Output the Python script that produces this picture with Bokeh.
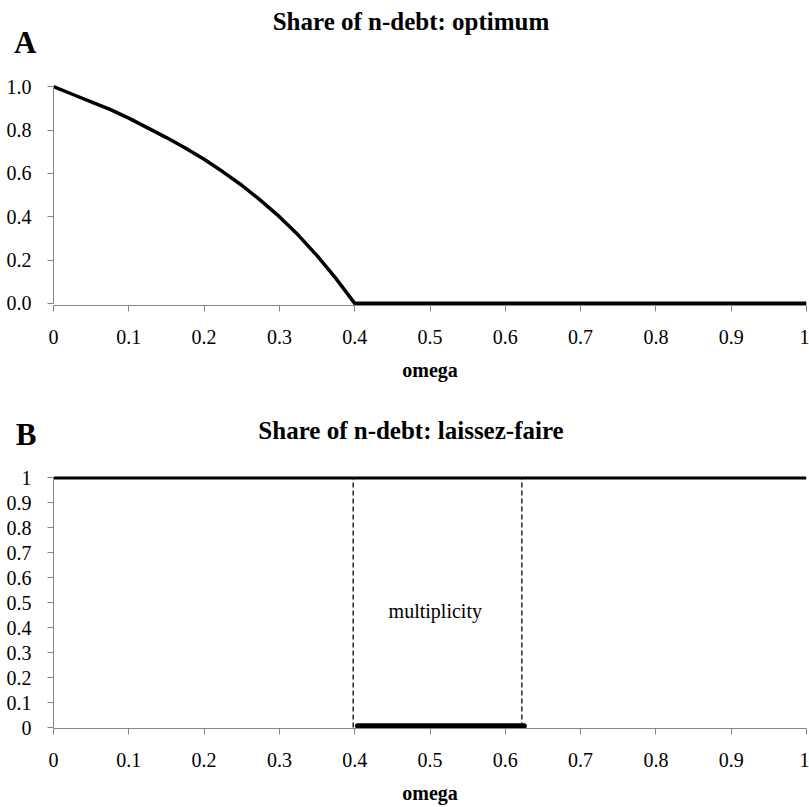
from bokeh.plotting import figure
from bokeh.models import Range1d, Label, FixedTicker
from bokeh.layouts import column
from bokeh.embed import file_html
from bokeh.resources import INLINE

# ---- data ----
x_ticks = [0, 0.1, 0.2, 0.3, 0.4, 0.5, 0.6, 0.7, 0.8, 0.9, 1]
x_tick_labels = ["0", "0.1", "0.2", "0.3", "0.4", "0.5", "0.6", "0.7", "0.8", "0.9", "1"]
ya_ticks = [0, 0.2, 0.4, 0.6, 0.8, 1.0]
ya_tick_labels = ["0.0", "0.2", "0.4", "0.6", "0.8", "1.0"]
yb_ticks = [0, 0.1, 0.2, 0.3, 0.4, 0.5, 0.6, 0.7, 0.8, 0.9, 1]
yb_tick_labels = ["0", "0.1", "0.2", "0.3", "0.4", "0.5", "0.6", "0.7", "0.8", "0.9", "1"]

omega_opt = [0.0, 0.025, 0.05, 0.075, 0.1, 0.125, 0.15, 0.175, 0.2, 0.225, 0.25, 0.275,
             0.3, 0.325, 0.35, 0.375, 0.4, 0.5, 0.6, 0.7, 0.8, 0.9, 1.0]
share_opt = [1.0, 0.965, 0.93, 0.895, 0.855, 0.81, 0.765, 0.717, 0.665, 0.607, 0.545, 0.475,
             0.40, 0.315, 0.22, 0.115, 0.0, 0.0, 0.0, 0.0, 0.0, 0.0, 0.0]

omega_lf = [0.0, 1.0]
share_lf = [1.0, 1.0]
mult_bounds = [0.398, 0.622]
mult_omega = [0.404, 0.625]
mult_share = [0.006, 0.006]

FONT = "Liberation Serif"
AXIS_GRAY = "#868686"
W = 809
LEFT, RIGHT = 53, 3


def header(h, title, title_mid, letter, letter_mid):
    # header strip: x in page pixels over the (aligned) frame, y in pixels from the top
    p = figure(width=W, height=h, x_range=Range1d(LEFT, W - RIGHT), y_range=Range1d(h, 0),
               output_backend="svg", toolbar_location=None,
               x_axis_location=None, y_axis_location="left",
               min_border_left=LEFT, min_border_right=RIGHT, min_border_top=0, min_border_bottom=0)
    p.outline_line_color = None
    p.grid.visible = False
    ya = p.yaxis[0]
    ya.ticker = FixedTicker(ticks=[letter_mid])
    ya.major_label_overrides = {letter_mid: letter}
    ya.axis_line_color = None
    ya.major_tick_line_color = None
    ya.minor_tick_line_color = None
    ya.major_tick_out = 0
    ya.major_tick_in = 0
    ya.major_label_standoff = 17
    ya.major_label_text_font = FONT
    ya.major_label_text_font_style = "bold"
    ya.major_label_text_font_size = "31px"
    ya.major_label_text_color = "black"
    p.add_layout(Label(x=410.5, y=title_mid, text=title, text_font=FONT,
                       text_font_style="bold", text_font_size="25px", text_align="center",
                       text_baseline="middle", text_color="black"))
    return p


def style(p, yt, ytl):
    p.outline_line_color = None
    p.grid.visible = False
    for ax in (p.xaxis[0], p.yaxis[0]):
        ax.axis_line_color = AXIS_GRAY
        ax.axis_line_width = 1
        ax.major_tick_line_color = AXIS_GRAY
        ax.major_tick_out = 6
        ax.major_tick_in = 0
        ax.minor_tick_line_color = None
        ax.major_label_text_font = FONT
        ax.major_label_text_font_size = "20px"
        ax.major_label_text_color = "black"
        ax.bounds = (0, 1)
    xa = p.xaxis[0]
    xa.ticker = FixedTicker(ticks=x_ticks)
    xa.major_label_overrides = {t: l for t, l in zip(x_ticks, x_tick_labels)}
    xa.major_label_standoff = 18
    xa.axis_label = "omega"
    xa.axis_label_text_font = FONT
    xa.axis_label_text_font_style = "bold"
    xa.axis_label_text_font_size = "20px"
    xa.axis_label_text_color = "black"
    xa.axis_label_standoff = 12
    ya = p.yaxis[0]
    ya.ticker = FixedTicker(ticks=yt)
    ya.major_label_overrides = {t: l for t, l in zip(yt, ytl)}
    ya.major_label_standoff = 16


# ---- Panel A ----
hA = header(62, "Share of n-debt: optimum", 21, "A", 42)
pA = figure(width=W, height=333, x_range=Range1d(0, 1), y_range=Range1d(-0.01, 1.01),
            output_backend="svg", toolbar_location=None,
            min_border_left=LEFT, min_border_right=RIGHT, min_border_top=22, min_border_bottom=90)
style(pA, ya_ticks, ya_tick_labels)
pA.line(omega_opt, share_opt, line_color="black", line_width=3.5, line_join="round")

# ---- Panel B ----
hB = header(60, "Share of n-debt: laissez-faire", 35, "B", 39)
pB = figure(width=W, height=351, x_range=Range1d(0, 1), y_range=Range1d(-0.004, 1.01),
            output_backend="svg", toolbar_location=None,
            min_border_left=LEFT, min_border_right=RIGHT, min_border_top=20, min_border_bottom=76)
style(pB, yb_ticks, yb_tick_labels)
pB.segment(x0=mult_bounds, y0=[0, 0], x1=mult_bounds, y1=[1, 1],
           line_color="black", line_width=1.3, line_dash="5 3")
pB.line(omega_lf, share_lf, line_color="black", line_width=3)
pB.line(mult_omega, mult_share, line_color="black", line_width=5.5, line_cap="round")
pB.add_layout(Label(x=0.507, y=0.465, text="multiplicity", text_font=FONT,
                    text_font_size="20px", text_align="center",
                    text_baseline="alphabetic", text_color="black"))

layout = column(hA, pA, hB, pB, spacing=0)
open("out.html", "w").write(file_html(layout, INLINE))
